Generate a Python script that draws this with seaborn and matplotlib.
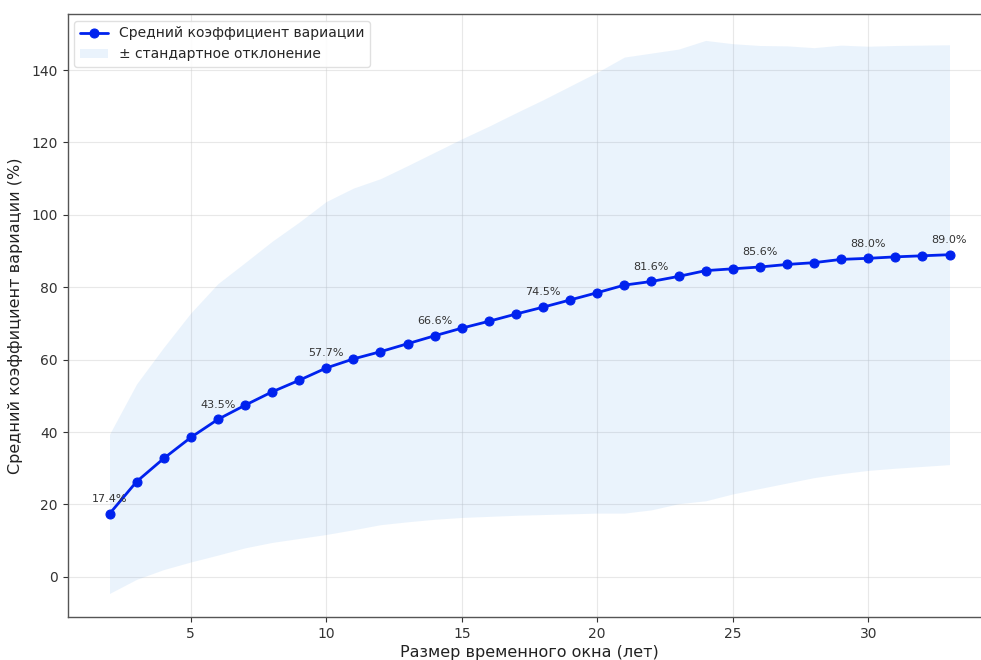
import numpy as np
import pandas as pd
import matplotlib
matplotlib.use("Agg")
import matplotlib.pyplot as plt
import seaborn as sns

window_years = list(range(2, 34))
mean_cv = [17.4, 26.3, 32.7, 38.5, 43.5, 47.4, 51.1, 54.3, 57.7, 60.2,
           62.2, 64.4, 66.6, 68.7, 70.6, 72.6, 74.5, 76.5, 78.5, 80.6,
           81.6, 83.0, 84.6, 85.1, 85.6, 86.3, 86.8, 87.7, 88.0, 88.4,
           88.7, 89.0]
std_cv = [22.0, 27.0, 30.7, 34.4, 37.5, 39.4, 41.6, 43.7, 46.0, 47.2,
          47.8, 49.2, 50.7, 52.3, 53.9, 55.6, 57.3, 59.1, 60.9, 63.0,
          63.1, 62.8, 63.6, 62.2, 61.2, 60.4, 59.4, 59.2, 58.6, 58.4,
          58.2, 58.0]

line_label = "Средний коэффициент вариации"
band_label = "± стандартное отклонение"
x_label = "Размер временного окна (лет)"
y_label = "Средний коэффициент вариации (%)"

df = pd.DataFrame({"window": window_years, "mean": mean_cv, "std": std_cv})
lower = df["mean"] - df["std"]
upper = df["mean"] + df["std"]

sns.set_style("ticks")
plt.rcParams["font.family"] = ["DejaVu Sans"]

fig = plt.figure(figsize=(9.81, 6.6), dpi=100)
# axes extend past the right edge of the canvas, as in the reference crop
ax = fig.add_axes([67.5 / 981, 43 / 660, 924 / 981, 603 / 660])

ax.fill_between(df["window"], lower, upper, color="#3a8ee6", alpha=0.1,
                linewidth=0, label=band_label)
sns.lineplot(data=df, x="window", y="mean", ax=ax, color="#0022ee",
             marker="o", markersize=6.5, markeredgecolor="#0022ee",
             linewidth=2, label=line_label)

n = len(window_years)
for i in range(n):
    if i % 4 == 0 or i == n - 1:
        ax.annotate(f"{mean_cv[i]:.1f}%", (window_years[i], mean_cv[i]),
                    xytext=(0, 7), textcoords="offset points",
                    ha="center", va="bottom", fontsize=8, color="#333333")

ax.set_xlim(0.45, 34.55)
ax.set_ylim(-11.1, 155.5)
ax.set_xticks([5, 10, 15, 20, 25, 30])
ax.set_yticks([0, 20, 40, 60, 80, 100, 120, 140])
ax.grid(True, color="#cccccc", alpha=0.45, linewidth=0.8)
ax.set_axisbelow(True)
ax.tick_params(labelsize=10, colors="#333333", length=3.5)
ax.set_xlabel(x_label, fontsize=11.5, color="#222222", labelpad=3)
ax.set_ylabel(y_label, fontsize=11.5, color="#222222", labelpad=6)
for s in ax.spines.values():
    s.set_visible(True)
    s.set_color("#555555")
    s.set_linewidth(1.0)

handles, labels = ax.get_legend_handles_labels()
order = [labels.index(line_label), labels.index(band_label)]
ax.legend([handles[k] for k in order], [labels[k] for k in order],
          loc="upper left", fontsize=10, frameon=True, framealpha=0.9,
          edgecolor="#dddddd", fancybox=True)

fig.savefig("out.png", dpi=100)
